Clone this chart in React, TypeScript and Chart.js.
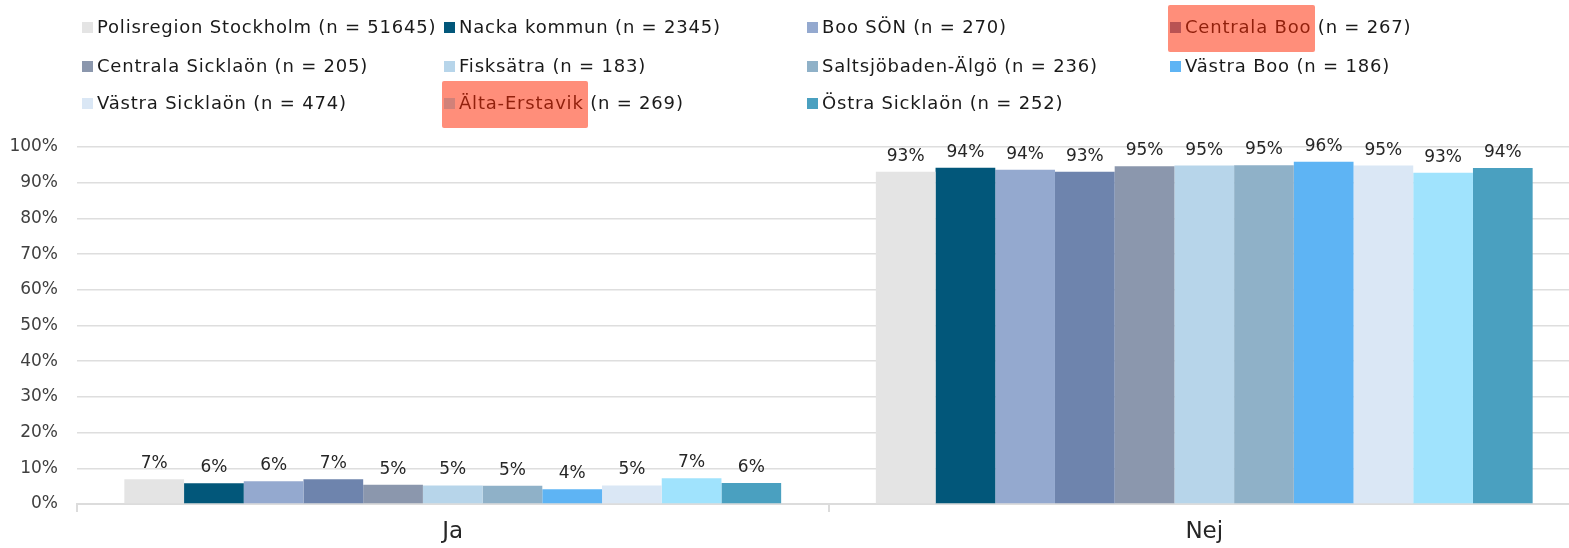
import React, { useEffect, useRef } from "react";
import { Chart, registerables } from "chart.js";

Chart.register(...registerables);

const categories = ["Ja", "Nej"];
const seriesNames = [
  "Polisregion Stockholm",
  "Nacka kommun",
  "Boo SÖN",
  "Centrala Boo",
  "Centrala Sicklaön",
  "Fisksätra",
  "Saltsjöbaden-Älgö",
  "Västra Boo",
  "Västra Sicklaön",
  "Älta-Erstavik",
  "Östra Sicklaön",
];
const seriesN = [51645, 2345, 270, 267, 205, 183, 236, 186, 474, 269, 252];
const jaValues = [6.9, 5.8, 6.4, 6.9, 5.4, 5.2, 5.1, 4.1, 5.2, 7.2, 5.9];
const nejValues = [93.1, 94.2, 93.6, 93.1, 94.6, 94.8, 94.9, 95.9, 94.8, 92.8, 94.1];
const seriesColors = [
  "#e4e4e4",
  "#02577a",
  "#94a9cf",
  "#6e84ad",
  "#8b97ad",
  "#b7d5ea",
  "#8fb1c8",
  "#5eb4f4",
  "#dae7f5",
  "#a0e3fd",
  "#4aa0c0",
];
const highlightedSeries = ["Centrala Boo", "Älta-Erstavik"];
const yTickValues = [0, 10, 20, 30, 40, 50, 60, 70, 80, 90, 100];

const FONT = '"DejaVu Sans", sans-serif';

const valueLabelPlugin = {
  id: "valueLabels",
  afterDatasetsDraw(chart: any) {
    const ctx = chart.ctx;
    ctx.save();
    ctx.font = `17px ${FONT}`;
    ctx.fillStyle = "#262626";
    ctx.textAlign = "center";
    ctx.textBaseline = "alphabetic";
    chart.data.datasets.forEach((ds: any, i: number) => {
      const meta = chart.getDatasetMeta(i);
      meta.data.forEach((bar: any, j: number) => {
        const v = ds.data[j];
        ctx.fillText(Math.round(v) + "%", bar.x, bar.y - 11);
      });
    });
    ctx.restore();
  },
};

const COL_X = [82, 444, 807, 1170];
const ROW_Y = [27, 66, 103];

export default function App() {
  const canvasRef = useRef<HTMLCanvasElement | null>(null);

  useEffect(() => {
    const canvas = canvasRef.current;
    if (!canvas) return;
    const chart = new Chart(canvas, {
      type: "bar",
      data: {
        labels: categories,
        datasets: seriesNames.map((name, i) => ({
          label: `${name} (n = ${seriesN[i]})`,
          data: [jaValues[i], nejValues[i]],
          backgroundColor: seriesColors[i],
          borderWidth: 0,
          categoryPercentage: 0.874,
          barPercentage: 1,
        })),
      },
      options: {
        responsive: false,
        animation: false,
        layout: { padding: { top: 147, left: 0, right: 0, bottom: 0 } },
        plugins: {
          legend: { display: false },
          tooltip: { enabled: false },
        },
        scales: {
          x: {
            grid: {
              offset: true,
              drawOnChartArea: false,
              tickLength: 8,
              color: "#dcdcdc",
              lineWidth: 2,
            },
            border: { color: "#dcdcdc", width: 2 },
            ticks: {
              font: { family: FONT, size: 23 },
              color: "#262626",
              padding: 6,
            },
            afterFit: (s: any) => {
              s.height = 44;
            },
          },
          y: {
            min: 0,
            max: 100,
            afterBuildTicks: (s: any) => {
              s.ticks = yTickValues.map((v) => ({ value: v }));
            },
            ticks: {
              callback: (v: any) => v + "%",
              padding: 19,
              font: { family: FONT, size: 17 },
              color: "#404040",
            },
            grid: { color: "#dedede", lineWidth: 1.5, drawTicks: false },
            border: { display: false },
            afterFit: (s: any) => {
              s.width = 77;
            },
          },
        },
      },
      plugins: [valueLabelPlugin],
    });
    return () => chart.destroy();
  }, []);

  return (
    <div
      style={{
        position: "absolute",
        left: 0,
        top: 0,
        width: 1569,
        height: 548,
        overflow: "hidden",
        background: "#fff",
        fontFamily: FONT,
      }}
    >
      <canvas ref={canvasRef} width={1580} height={548} style={{ display: "block" }} />
      {seriesNames.map((name, i) => {
        const col = i % 4;
        const row = Math.floor(i / 4);
        const hl = highlightedSeries.includes(name);
        return (
          <div
            key={name}
            style={{
              position: "absolute",
              left: COL_X[col],
              top: ROW_Y[row] - 11,
              height: 22,
              lineHeight: "22px",
              fontSize: 18,
              letterSpacing: "0.8px",
              color: "#1a1a1a",
              whiteSpace: "nowrap",
              display: "flex",
              alignItems: "center",
            }}
          >
            <span style={{ position: "relative", display: "inline-flex", alignItems: "center" }}>
              <span
                style={{
                  display: "inline-block",
                  width: 11,
                  height: 11,
                  background: seriesColors[i],
                  marginRight: 4,
                }}
              />
              <span>{name}</span>
              {hl && (
                <span
                  style={{
                    position: "absolute",
                    left: -2,
                    right: -4,
                    top: -11,
                    bottom: -14,
                    background: "rgba(255,38,0,0.52)",
                    borderRadius: 2,
                    pointerEvents: "none",
                  }}
                />
              )}
            </span>
            <span>&nbsp;(n = {seriesN[i]})</span>
          </div>
        );
      })}
    </div>
  );
}
